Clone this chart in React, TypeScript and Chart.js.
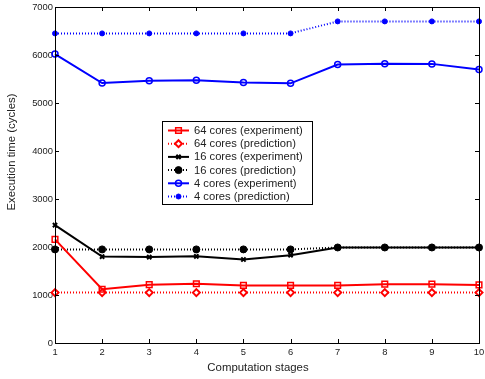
import React, { useEffect, useRef } from "react";
import { Chart, registerables } from "chart.js";
import { drawPoint } from "chart.js/helpers";

Chart.register(...registerables);

const stages = [1, 2, 3, 4, 5, 6, 7, 8, 9, 10];
const yTicks = [0, 1000, 2000, 3000, 4000, 5000, 6000, 7000];
const xTitle = "Computation stages";
const yTitle = "Execution time (cycles)";

const exp64 = [2160, 1120, 1215, 1235, 1200, 1200, 1200, 1225, 1225, 1210];
const pred64 = [1050, 1050, 1050, 1050, 1050, 1050, 1050, 1050, 1050, 1050];
const exp16 = [2455, 1800, 1790, 1805, 1740, 1830, 1990, 1990, 1990, 1990];
const pred16 = [1950, 1950, 1950, 1950, 1950, 1950, 1990, 1990, 1990, 1990];
const exp4 = [6020, 5415, 5465, 5475, 5425, 5410, 5800, 5820, 5815, 5700];
const pred4 = [6450, 6450, 6450, 6450, 6450, 6450, 6700, 6700, 6700, 6700];

const FONT = "'Liberation Sans', Arial, Helvetica, sans-serif";
const TEXT = "#222";

const frameAndLegend = {
  id: "frameAndLegend",
  afterDraw(chart: any) {
    const ctx = chart.ctx;
    const { left, right, top, bottom } = chart.chartArea;
    const xs = chart.scales.x;
    const ys = chart.scales.y;
    const tl = 4;
    const L = Math.round(left), R = Math.round(right), T = Math.round(top), B = Math.round(bottom);
    ctx.save();
    ctx.setLineDash([]);
    ctx.globalAlpha = 1;
    ctx.fillStyle = "#000";
    ctx.fillRect(L, T, R - L + 1, 1);
    ctx.fillRect(L, B, R - L + 1, 1);
    ctx.fillRect(L, T, 1, B - T + 1);
    ctx.fillRect(R, T, 1, B - T + 1);
    for (const v of stages) {
      const x = Math.round(xs.getPixelForValue(v));
      ctx.fillRect(x, B - tl, 1, tl);
      ctx.fillRect(x, T, 1, tl);
    }
    for (const v of yTicks) {
      const y = Math.round(ys.getPixelForValue(v));
      ctx.fillRect(L, y, tl, 1);
      ctx.fillRect(R - tl, y, tl, 1);
    }

    // axis titles
    ctx.fillStyle = TEXT;
    ctx.font = `11.4px ${FONT}`;
    ctx.textAlign = "center";
    ctx.textBaseline = "middle";
    ctx.fillText(xTitle, 258, 367.5);
    ctx.save();
    ctx.translate(12, 152);
    ctx.rotate(-Math.PI / 2);
    ctx.fillText(yTitle, 0, 0);
    ctx.restore();

    // legend
    const bx = 162, by = 121, bw = 150, bh = 83;
    ctx.fillStyle = "#fff";
    ctx.fillRect(bx, by, bw, bh);
    ctx.fillStyle = "#000";
    ctx.fillRect(bx, by, bw + 1, 1);
    ctx.fillRect(bx, by + bh, bw + 1, 1);
    ctx.fillRect(bx, by, 1, bh + 1);
    ctx.fillRect(bx + bw, by, 1, bh + 1);
    ctx.font = `11.2px ${FONT}`;
    ctx.textBaseline = "middle";
    ctx.textAlign = "left";
    chart.data.datasets.forEach((ds: any, i: number) => {
      const y = by + 9.5 + i * 13.2;
      ctx.save();
      ctx.strokeStyle = ds.borderColor;
      ctx.lineWidth = ds.borderWidth;
      ctx.setLineDash(ds.borderDash || []);
      ctx.beginPath();
      ctx.moveTo(168, y);
      ctx.lineTo(189, y);
      ctx.stroke();
      ctx.setLineDash([]);
      ctx.strokeStyle = ds.pointBorderColor;
      ctx.fillStyle = ds.pointBackgroundColor;
      ctx.lineWidth = ds.pointBorderWidth;
      drawPoint(ctx, { pointStyle: ds.pointStyle, radius: ds.pointRadius, borderWidth: ds.pointBorderWidth, rotation: 0 }, 178.5, y);
      ctx.restore();
      ctx.fillStyle = TEXT;
      ctx.fillText(ds.label, 194, y + 0.5);
    });
    ctx.restore();
  },
};

export default function App() {
  const ref = useRef<HTMLCanvasElement | null>(null);
  useEffect(() => {
    document.body.style.margin = "0";
    const solid = (label: string, data: number[], color: string, style: string, r: number, fill: string, bw: number) => ({
      label, data, borderColor: color, borderWidth: 2, pointStyle: style, pointRadius: r,
      pointBorderColor: color, pointBackgroundColor: fill, pointBorderWidth: bw, clip: false,
    });
    const dotted = (label: string, data: number[], color: string, style: string, r: number, fill: string, bw: number) => ({
      ...solid(label, data, color, style, r, fill, bw), borderDash: [1, 2], borderWidth: 2,
    });
    const chart = new Chart(ref.current as HTMLCanvasElement, {
      type: "line",
      data: {
        labels: stages,
        datasets: [
          solid("64 cores (experiment)", exp64, "#ff0000", "rect", 4, "rgba(0,0,0,0)", 1.5),
          dotted("64 cores (prediction)", pred64, "#ff0000", "rectRot", 3.5, "#ffffff", 2),
          solid("16 cores (experiment)", exp16, "#000000", "crossRot", 3, "#000000", 2),
          dotted("16 cores (prediction)", pred16, "#000000", "circle", 3.5, "#000000", 1),
          solid("4 cores (experiment)", exp4, "#0000ff", "circle", 3, "rgba(0,0,0,0)", 1.5),
          dotted("4 cores (prediction)", pred4, "#0000ff", "circle", 2.5, "#0000ff", 1),
        ] as any,
      },
      options: {
        animation: false,
        responsive: false,
        maintainAspectRatio: false,
        layout: { padding: { top: 7, right: 0, left: 0, bottom: 0 } },
        plugins: { legend: { display: false }, tooltip: { enabled: false } },
        elements: { line: { tension: 0 } },
        scales: {
          x: {
            type: "linear",
            min: 1,
            max: 10,
            grid: { display: false, drawTicks: false },
            border: { display: false },
            afterBuildTicks: (s: any) => { s.ticks = stages.map((v) => ({ value: v })); },
            ticks: { color: TEXT, font: { family: FONT, size: 9.4 }, padding: 4, maxRotation: 0, autoSkip: false },
            title: { display: false, text: xTitle },
            afterFit: (s: any) => { s.height = 36; s.paddingLeft = 0; s.paddingRight = 0; },
          },
          y: {
            min: 0,
            max: 7000,
            grid: { display: false, drawTicks: false },
            border: { display: false },
            afterBuildTicks: (s: any) => { s.ticks = yTicks.map((v) => ({ value: v })); },
            ticks: { color: TEXT, font: { family: FONT, size: 9.4 }, padding: 2, callback: (v: any) => String(v) },
            title: { display: false, text: yTitle },
            afterFit: (s: any) => { s.width = 55; s.paddingTop = 0; s.paddingBottom = 0; },
          },
        },
      } as any,
      plugins: [frameAndLegend],
    });
    return () => chart.destroy();
  }, []);
  return (
    <div style={{ position: "absolute", left: 0, top: 0, width: 485, height: 379, overflow: "hidden" }}>
      <canvas ref={ref} width={485} height={379} style={{ display: "block", width: 485, height: 379 }} />
    </div>
  );
}
